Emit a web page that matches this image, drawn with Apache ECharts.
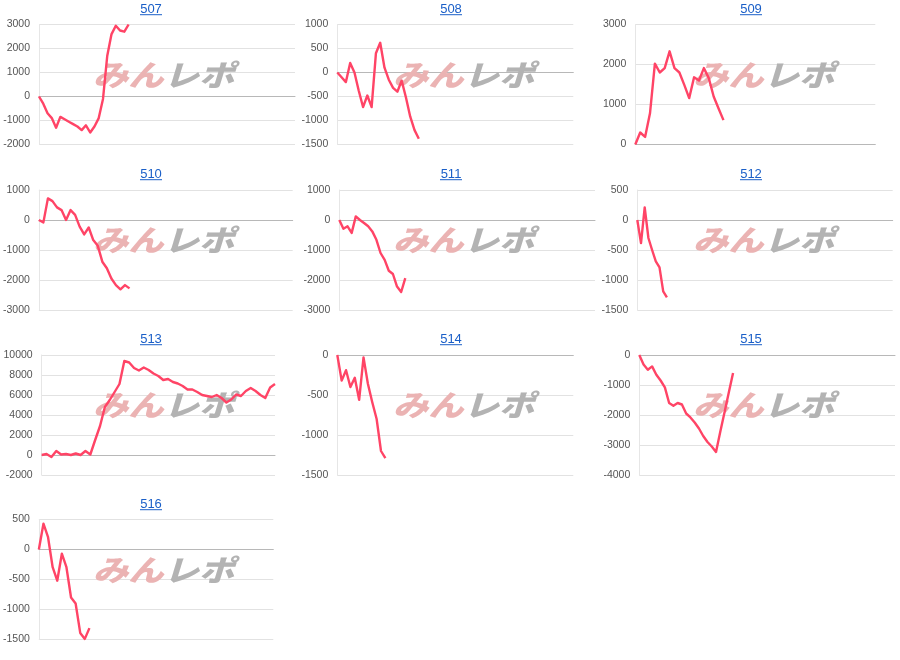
<!DOCTYPE html>
<html><head><meta charset="utf-8">
<script src="https://cdn.jsdelivr.net/npm/echarts@6/dist/echarts.min.js"></script>
<style>html,body{margin:0;padding:0;background:#fff}#c{width:900px;height:660px}</style>
</head><body><div id="c"></div>
<script>
// ---- data ----
const names = ['507','508','509','510','511','512','513','514','515','516'];
const v507 = [0,-300,-700,-900,-1300,-850,-950,-1050,-1150,-1250,-1400,-1200,-1500,-1250,-900,-100,1700,2600,2950,2750,2700,3000];
const v508 = [0,-100,-200,200,0,-380,-720,-480,-720,400,620,100,-150,-320,-400,-170,-520,-920,-1200,-1380];
const v509 = [0,300,190,780,2020,1800,1910,2330,1910,1800,1490,1160,1680,1600,1910,1660,1200,900,610];
const v510 = [0,-80,720,630,420,330,0,330,170,-220,-480,-250,-670,-860,-1390,-1610,-1950,-2170,-2310,-2170,-2280];
const v511 = [0,-290,-210,-430,120,0,-100,-210,-380,-660,-1100,-1330,-1690,-1800,-2220,-2400,-1940];
const v512 = [0,-385,210,-300,-500,-690,-790,-1190,-1290];
const v513 = [0,100,-200,400,50,100,0,150,0,400,50,1500,2900,4800,5500,6300,7100,9400,9250,8700,8450,8750,8500,8150,7900,7500,7600,7300,7150,6900,6550,6550,6300,6000,5900,5800,6000,5700,5250,5550,6050,5900,6400,6700,6400,6000,5700,6750,7100];
const v514 = [0,-320,-190,-400,-285,-560,-30,-360,-590,-800,-1200,-1290];
const v515 = [0,-320,-490,-380,-660,-850,-1080,-1600,-1690,-1600,-1650,-1950,-2080,-2250,-2450,-2700,-2900,-3050,-3230,-2560,-1905,-1250,-600];
const v516 = [0,430,205,-295,-520,-70,-295,-800,-900,-1390,-1490,-1310];
const values = [v507,v508,v509,v510,v511,v512,v513,v514,v515,v516];
const yMin  = [-2000,-1500,0,-3000,-3000,-1500,-2000,-1500,-4000,-1500];
const yMax  = [3000,1000,3000,1000,1000,500,10000,0,0,500];
const yStep = [1000,500,1000,1000,1000,500,2000,500,1000,500];
const xSlots = [60,55,49,56,62,69,48,54,60,51];
const watermarkA = 'みん';
const watermarkB = 'レポ';

// ---- layout ----
const gridLeft  = [39,337.3,635.3,37.3,339.3,637.3,41.7,337.3,639.3,37.3];
const gridWidth = [256,236,240,255.4,255.7,255.4,233.3,236,255.7,236];
const gridTop   = [24.5,190,355,519.5];
const rowTop    = [0,165,330,495];
const gridH = 120;
const LINK = '#1a5fc8';
const LINE = '#ff4466';

const grids=[], xAxes=[], yAxes=[], series=[], graphics=[];
names.forEach((nm,k)=>{
  const col = k%3, row = Math.floor(k/3);
  grids.push({left:gridLeft[k], top:gridTop[row], width:gridWidth[k], height:gridH, containLabel:false});
  xAxes.push({gridIndex:k, type:'value', min:0, max:xSlots[k],
    axisLabel:{show:false}, axisTick:{show:false}, splitLine:{show:false},
    axisLine:{show:true, onZero:true, lineStyle:{color:'#b8b8b8', width:1}}});
  yAxes.push({gridIndex:k, type:'value', min:yMin[k], max:yMax[k], interval:yStep[k],
    axisLabel:{fontSize:10.5, color:'#555', margin:9, fontFamily:'"Liberation Sans", Arial, sans-serif',
      formatter:(v)=>String(v)},
    axisTick:{show:false},
    axisLine:{show:true, lineStyle:{color:'#e6e6e6'}},
    splitLine:{show:true, lineStyle:{color:'#e2e2e2', width:1}}});
  series.push({type:'line', xAxisIndex:k, yAxisIndex:k, showSymbol:false, symbol:'none',
    data: values[k].map((v,i)=>[i,v]), z:3,
    lineStyle:{color:LINE, width:2.4, join:'round'}, animation:false});
  const cx = col*300+151;
  graphics.push({type:'text', x:cx, y:rowTop[row]+9, z:10,
    style:{text:nm, fill:LINK, font:'13px "Liberation Sans", Arial, sans-serif', textAlign:'center', textVerticalAlign:'middle'}});
  graphics.push({type:'rect', shape:{x:cx-11, y:rowTop[row]+14.2, width:22, height:1}, z:10, style:{fill:LINK}});
  graphics.push({type:'text', x:col*300+93, y:rowTop[row]+60, z:1, scaleY:0.86, scaleX:1.04,
    style:{text:'{a|'+watermarkA+'}{b|'+watermarkB+'}', textVerticalAlign:'top',
      rich:{a:{fill:'#ebb3b3', font:'italic 900 34px "Noto Sans CJK JP"'},
            b:{fill:'#b3b3b3', font:'italic 900 34px "Noto Sans CJK JP"'}}}});
});

const chart = echarts.init(document.getElementById('c'), null, {renderer:'canvas'});
chart.setOption({backgroundColor:'#fff', animation:false, grid:grids, xAxis:xAxes, yAxis:yAxes, series:series, graphic:graphics});
</script></body></html>
